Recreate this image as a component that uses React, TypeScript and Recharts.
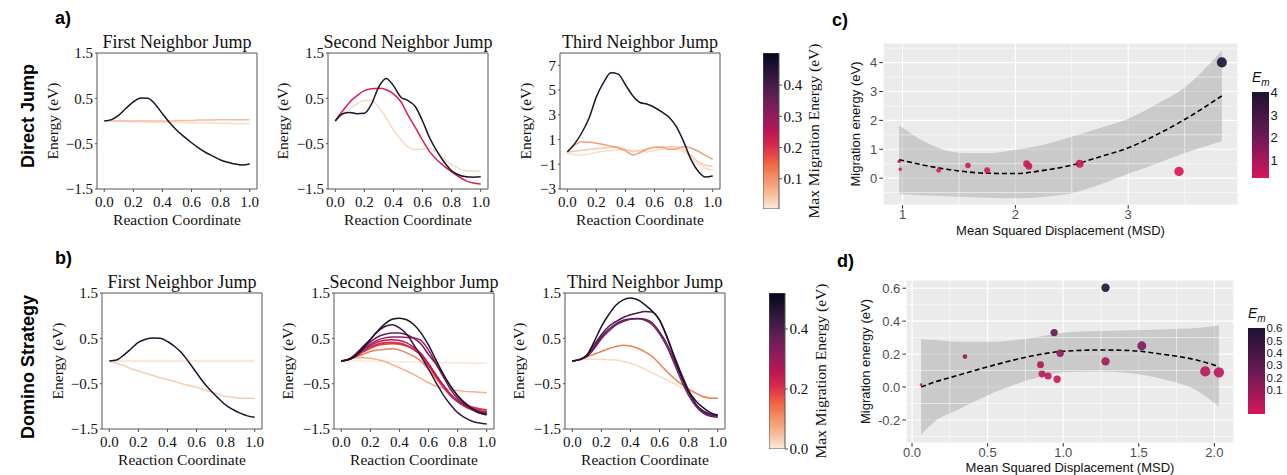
import {
  LineChart, Line, XAxis, YAxis, ReferenceArea, ReferenceLine,
  ComposedChart, Area, Scatter, ZAxis, CartesianGrid, BarChart, Bar, Cell
} from "recharts";

// reaction coordinate grid shared by every NEB curve
const rc = [0, 0.05, 0.1, 0.15, 0.2, 0.25, 0.3, 0.35, 0.4, 0.45, 0.5, 0.55, 0.6, 0.65, 0.7, 0.75, 0.8, 0.85, 0.9, 0.95, 1.0];
const rcTicks = [0, 0.2, 0.4, 0.6, 0.8, 1.0];

// a) direct jump
const a1High = [0, 0.03, 0.13, 0.28, 0.42, 0.51, 0.5, 0.37, 0.16, -0.04, -0.21, -0.35, -0.48, -0.6, -0.7, -0.78, -0.86, -0.91, -0.95, -0.97, -0.95];
const a1Flat = [0, 0, 0, 0, 0, 0, 0, 0, 0, 0, 0.01, 0.01, 0.01, 0.02, 0.02, 0.02, 0.03, 0.03, 0.03, 0.03, 0.03];
const a1Low = [0, 0, 0, -0.01, -0.01, -0.01, -0.02, -0.02, -0.02, -0.03, -0.03, -0.03, -0.04, -0.04, -0.04, -0.05, -0.05, -0.05, -0.06, -0.06, -0.06];

const a2High = [0, 0.16, 0.19, 0.16, 0.17, 0.38, 0.76, 0.94, 0.78, 0.53, 0.45, 0.32, 0.0, -0.38, -0.67, -0.91, -1.1, -1.19, -1.23, -1.24, -1.23];
const a2Mid = [0, 0.22, 0.42, 0.56, 0.67, 0.71, 0.72, 0.69, 0.6, 0.43, 0.13, -0.14, -0.42, -0.68, -0.86, -1.0, -1.12, -1.23, -1.32, -1.37, -1.39];
const a2Low = [0, 0.14, 0.27, 0.38, 0.45, 0.46, 0.3, 0.07, -0.2, -0.4, -0.57, -0.63, -0.62, -0.6, -0.68, -0.84, -0.97, -1.05, -1.1, -1.11, -1.1];

const a3High = [0, 0.65, 1.55, 2.74, 4.45, 5.62, 6.4, 6.29, 5.43, 4.55, 4.0, 3.86, 3.59, 3.23, 2.8, 2.04, 0.83, -0.6, -1.56, -2.03, -1.95];
const a3A = [0, 0.55, 0.82, 0.78, 0.7, 0.6, 0.47, 0.32, 0.08, -0.25, -0.05, 0.22, 0.38, 0.38, 0.2, 0.25, 0.42, 0.32, 0.05, -0.28, -0.6];
const a3B = [0, 0.05, 0.13, 0.2, 0.26, 0.32, 0.38, 0.4, 0.22, 0.02, 0.12, 0.25, 0.35, 0.4, 0.42, 0.42, 0.2, -0.3, -0.8, -1.08, -1.15];
const a3C = [-0.1, -0.2, -0.25, -0.18, -0.05, 0.05, 0.12, 0.15, 0.15, 0.15, 0.08, 0.0, 0.1, 0.22, 0.28, 0.2, 0.0, -0.5, -1.0, -1.3, -1.5];

// b) domino strategy
const b1High = [0, 0.02, 0.13, 0.27, 0.41, 0.48, 0.51, 0.5, 0.43, 0.32, 0.17, -0.04, -0.26, -0.48, -0.66, -0.82, -0.97, -1.07, -1.15, -1.21, -1.24];
const b1Flat = [0, 0, 0, 0, 0, 0, 0, 0, 0, 0, 0, 0, 0, 0, 0, 0, 0, 0, 0, 0, 0];
const b1Slope = [0, -0.05, -0.1, -0.17, -0.22, -0.27, -0.32, -0.37, -0.41, -0.45, -0.5, -0.54, -0.58, -0.63, -0.68, -0.73, -0.78, -0.8, -0.82, -0.82, -0.82];

const b2L1 = [0, 0.03, 0.12, 0.28, 0.47, 0.66, 0.82, 0.92, 0.945, 0.91, 0.8, 0.61, 0.35, 0.03, -0.28, -0.55, -0.76, -0.93, -1.05, -1.14, -1.17];
const b2L2 = [0, 0.04, 0.16, 0.32, 0.48, 0.65, 0.76, 0.8, 0.73, 0.59, 0.35, 0.09, -0.18, -0.47, -0.74, -0.96, -1.14, -1.25, -1.33, -1.37, -1.39];
const b2L3 = [0, 0.03, 0.13, 0.28, 0.42, 0.53, 0.59, 0.62, 0.62, 0.58, 0.5, 0.37, 0.14, -0.06, -0.34, -0.62, -0.83, -0.97, -1.07, -1.15, -1.19];
const b2L4 = [0, 0.03, 0.12, 0.25, 0.37, 0.46, 0.51, 0.53, 0.53, 0.52, 0.51, 0.45, 0.24, -0.04, -0.3, -0.55, -0.77, -0.92, -1.04, -1.11, -1.15];
const b2L5 = [0, 0.03, 0.12, 0.24, 0.34, 0.42, 0.46, 0.47, 0.45, 0.4, 0.3, 0.16, -0.06, -0.3, -0.53, -0.73, -0.88, -0.99, -1.06, -1.1, -1.12];
const b2L6 = [0, 0.03, 0.11, 0.21, 0.3, 0.37, 0.4, 0.41, 0.39, 0.34, 0.25, 0.12, -0.1, -0.33, -0.56, -0.75, -0.89, -0.97, -1.02, -1.06, -1.08];
const b2L7 = [0, 0.03, 0.1, 0.2, 0.28, 0.34, 0.37, 0.38, 0.37, 0.33, 0.26, 0.13, -0.07, -0.3, -0.53, -0.74, -0.9, -1.01, -1.08, -1.13, -1.15];
const b2L8 = [0, 0.03, 0.09, 0.15, 0.21, 0.24, 0.26, 0.27, 0.24, 0.18, 0.1, -0.01, -0.18, -0.38, -0.58, -0.76, -0.9, -0.99, -1.06, -1.1, -1.13];
const b2L9 = [0, 0.04, 0.07, 0.07, 0.06, 0.03, -0.01, -0.08, -0.15, -0.22, -0.3, -0.39, -0.48, -0.55, -0.6, -0.63, -0.65, -0.67, -0.68, -0.69, -0.7];
const b2L10 = [0, 0, 0, 0, 0, -0.01, -0.01, -0.01, -0.02, -0.02, -0.02, -0.03, -0.03, -0.03, -0.04, -0.04, -0.04, -0.04, -0.05, -0.05, -0.05];

const b3L1 = [0, 0.03, 0.13, 0.42, 0.76, 1.02, 1.23, 1.35, 1.39, 1.35, 1.24, 1.1, 0.9, 0.53, 0.09, -0.33, -0.67, -0.88, -1.03, -1.14, -1.19];
const b3L2 = [0, 0.03, 0.13, 0.35, 0.58, 0.76, 0.87, 0.96, 1.02, 1.06, 1.09, 1.08, 0.9, 0.55, 0.12, -0.28, -0.65, -0.95, -1.1, -1.17, -1.2];
const b3L3 = [0, 0.03, 0.1, 0.3, 0.53, 0.7, 0.82, 0.9, 0.93, 0.94, 0.92, 0.84, 0.64, 0.38, 0.02, -0.35, -0.7, -0.96, -1.12, -1.19, -1.22];
const b3L4 = [0, 0.03, 0.1, 0.27, 0.49, 0.66, 0.79, 0.87, 0.92, 0.93, 0.9, 0.8, 0.6, 0.32, -0.05, -0.43, -0.76, -1.0, -1.15, -1.22, -1.24];
const b3L5 = [0, 0.04, 0.09, 0.15, 0.21, 0.27, 0.32, 0.35, 0.33, 0.28, 0.2, 0.1, -0.06, -0.23, -0.38, -0.51, -0.62, -0.71, -0.79, -0.82, -0.82];
const b3L6 = [0, 0.02, 0.04, 0.04, 0.04, 0.03, 0.02, -0.01, -0.05, -0.11, -0.18, -0.26, -0.34, -0.42, -0.5, -0.58, -0.65, -0.72, -0.77, -0.81, -0.83];

// c) direct jump: migration energy vs MSD
const cMsd = [0.97, 0.98, 1.32, 1.58, 1.75, 2.1, 2.12, 2.57, 3.45, 3.83];
const cEm = [0.58, 0.31, 0.27, 0.44, 0.27, 0.5, 0.41, 0.5, 0.23, 4.01];
const cFitMsd = [0.97, 1.2, 1.5, 1.75, 2.0, 2.25, 2.5, 2.75, 3.0, 3.25, 3.5, 3.83];
const cFit = [0.64, 0.44, 0.25, 0.17, 0.16, 0.27, 0.45, 0.74, 1.05, 1.5, 2.03, 2.85];
const cHi = [1.83, 1.25, 0.88, 0.86, 0.98, 1.16, 1.43, 1.74, 2.06, 2.56, 3.14, 4.42];
const cLo = [-0.55, -0.6, -0.64, -0.68, -0.7, -0.65, -0.52, -0.22, 0.15, 0.5, 0.87, 1.28];

// d) domino strategy: migration energy vs MSD
const dMsd = [0.06, 0.35, 0.85, 0.86, 0.9, 0.94, 0.96, 0.98, 1.28, 1.28, 1.52, 1.94, 2.03];
const dEm = [0.014, 0.185, 0.136, 0.079, 0.067, 0.331, 0.047, 0.205, 0.156, 0.603, 0.25, 0.095, 0.089];
const dFitMsd = [0.06, 0.15, 0.3, 0.55, 0.8, 1.0, 1.25, 1.45, 1.65, 1.9, 2.03];
const dFit = [0.0, 0.03, 0.07, 0.135, 0.19, 0.217, 0.225, 0.221, 0.2, 0.16, 0.124];
const dHi = [0.29, 0.285, 0.275, 0.275, 0.3, 0.33, 0.34, 0.345, 0.35, 0.36, 0.375];
const dLo = [-0.29, -0.21, -0.14, -0.03, 0.05, 0.09, 0.095, 0.083, 0.05, -0.03, -0.12];

const serif = '"Liberation Serif", "Times New Roman", serif';
const sans = '"Liberation Sans", Arial, Helvetica, sans-serif';

// rocket_r, bottom to top
const rocket = ["#faebdd", "#f6bc98", "#f58f64", "#f06043", "#da2b4a", "#b91657", "#921c5b", "#691f55", "#451c47", "#221331", "#03051a"];
const emStops = [[214, 22, 92], [104, 26, 84], [28, 18, 50]];

const fmt = (v: number, d: number) => v.toFixed(d).replace("-", "\u2212");

function emColor(v: number, lo: number, hi: number) {
  const t = Math.min(1, Math.max(0, (v - lo) / (hi - lo))) * 2;
  const i = Math.min(1, Math.floor(t));
  const f = t - i;
  const c = emStops[i].map((a, k) => Math.round(a + (emStops[i + 1][k] - a) * f));
  return `rgb(${c[0]},${c[1]},${c[2]})`;
}

type Curve = { e: number[]; color: string; width?: number };

const rows = (e: number[]) => rc.map((x, i) => ({ x, e: e[i] }));

function NebPanel({ left, top, title, yDomain, yTicks, yDigits, curves, labelOffset }: {
  left: number; top: number; title: string; yDomain: [number, number]; yTicks: number[];
  yDigits: number; curves: Curve[]; labelOffset: number;
}) {
  const yw = 56, w = 160, h = 136, mt = 10, mr = 12, xh = 46;
  return (
    <>
      <div style={{
        position: "absolute", left, top: top - 21.5, width: w, display: "flex",
        justifyContent: "center", whiteSpace: "nowrap", fontFamily: serif,
        fontSize: 18, lineHeight: "20px", color: "#111"
      }}>{title}</div>
      <div style={{ position: "absolute", left: left - yw, top: top - mt }}>
        <LineChart width={yw + w + mr} height={mt + h + xh} margin={{ top: mt, right: mr, left: 0, bottom: 0 }}>
          <XAxis
            type="number" dataKey="x" domain={[-0.05, 1.05]} ticks={rcTicks} allowDataOverflow interval={0}
            height={xh} tickSize={3} tickMargin={4} axisLine={false} tickLine={{ stroke: "#555" }}
            tickFormatter={(v: number) => v.toFixed(1)}
            tick={{ fontFamily: serif, fontSize: 15, fill: "#111" }}
            label={{ value: "Reaction Coordinate", position: "insideBottom", offset: 10, style: { fontFamily: serif, fontSize: 15.5, fill: "#111" } }}
          />
          <YAxis
            type="number" domain={yDomain} ticks={yTicks} allowDataOverflow width={yw} interval={0}
            tickSize={2} tickMargin={2} axisLine={false} tickLine={{ stroke: "#555" }}
            tickFormatter={(v: number) => fmt(v, yDigits)}
            tick={{ fontFamily: serif, fontSize: 15, fill: "#111" }}
            label={{ value: "Energy (eV)", angle: -90, position: "insideLeft", offset: labelOffset, style: { textAnchor: "middle", fontFamily: serif, fontSize: 15.5, fill: "#111" } }}
          />
          <ReferenceArea x1={-0.05} x2={1.05} y1={yDomain[0]} y2={yDomain[1]} fill="none" stroke="#555" strokeWidth={1} />
          {curves.map((c, i) => (
            <Line
              key={i} data={rows(c.e)} dataKey="e" type="monotone" stroke={c.color}
              strokeWidth={c.width ?? 1.5} dot={false} isAnimationActive={false}
            />
          ))}
        </LineChart>
      </div>
    </>
  );
}

function RocketBar({ left, top, h, lo, hi, ticks, labelOffset, gid }: {
  left: number; top: number; h: number; lo: number; hi: number; ticks: number[]; labelOffset: number; gid: string;
}) {
  const w = 16, aw = 70, m = 10;
  return (
    <div style={{ position: "absolute", left, top: top - m }}>
      <BarChart width={w + aw} height={h + 2 * m} data={[{ k: "cb", span: [lo, hi] }]} margin={{ top: m, right: 0, bottom: m, left: 0 }} barCategoryGap={0}>
        <defs>
          <linearGradient id={gid} x1="0" y1="1" x2="0" y2="0">
            {rocket.map((c, i) => <stop key={i} offset={i / (rocket.length - 1)} stopColor={c} />)}
          </linearGradient>
        </defs>
        <XAxis dataKey="k" hide />
        <YAxis
          orientation="right" type="number" domain={[lo, hi]} ticks={ticks} allowDataOverflow width={aw} interval={0}
          tickSize={3} tickMargin={1.5} axisLine={false} tickLine={{ stroke: "#555" }}
          tickFormatter={(v: number) => v.toFixed(1)}
          tick={{ fontFamily: serif, fontSize: 15, fill: "#111" }}
          label={{ value: "Max Migration Energy (eV)", angle: -90, position: "insideRight", offset: labelOffset, style: { textAnchor: "middle", fontFamily: serif, fontSize: 15.5, fill: "#111" } }}
        />
        <Bar dataKey="span" fill={`url(#${gid})`} stroke="#555" strokeWidth={1} isAnimationActive={false} />
      </BarChart>
    </div>
  );
}

function EmBar({ left, top, h, lo, hi, ticks, digits, fontSize, gid }: {
  left: number; top: number; h: number; lo: number; hi: number; ticks: number[]; digits: number; fontSize: number; gid: string;
}) {
  const w = 17, aw = 22, m = 10;
  return (
    <>
      <div style={{ position: "absolute", left, top: top - 23, fontFamily: sans, fontSize: 14, fontStyle: "italic", lineHeight: "16px", color: "#111" }}>
        E<sub style={{ fontSize: 10 }}>m</sub>
      </div>
      <div style={{ position: "absolute", left, top: top - m }}>
        <BarChart width={w + aw} height={h + 2 * m} data={[{ k: "cb", span: [lo, hi] }]} margin={{ top: m, right: 0, bottom: m, left: 0 }} barCategoryGap={0}>
          <defs>
            <linearGradient id={gid} x1="0" y1="1" x2="0" y2="0">
              {emStops.map((c, i) => <stop key={i} offset={i / 2} stopColor={`rgb(${c[0]},${c[1]},${c[2]})`} />)}
            </linearGradient>
          </defs>
          <XAxis dataKey="k" hide />
          <YAxis
            yAxisId="lab" orientation="right" type="number" domain={[lo, hi]} ticks={ticks} allowDataOverflow width={aw} interval={0}
            tickLine={false} tickSize={0} axisLine={false} tickMargin={1.5}
            tickFormatter={(v: number) => v.toFixed(digits)}
            tick={{ fontFamily: sans, fontSize, fill: "#1a1a1a" }}
          />
          <YAxis
            yAxisId="inL" orientation="left" mirror type="number" domain={[lo, hi]} ticks={ticks} allowDataOverflow width={0} interval={0}
            tick={false} axisLine={false} tickSize={3} tickLine={{ stroke: "#fff" }}
          />
          <Bar yAxisId="lab" dataKey="span" fill={`url(#${gid})`} isAnimationActive={false} />
        </BarChart>
      </div>
    </>
  );
}

function SmoothPanel({ left, top, w, h, xDomain, yDomain, xTicks, yTicks, xMinor, yMinor, xDigits, yDigits,
  fitMsd, fit, lo, hi, msd, em, emLo, emHi, zDomain, zRange, yw, yLabelOffset, xLabelOffset }: {
  left: number; top: number; w: number; h: number; xDomain: [number, number]; yDomain: [number, number];
  xTicks: number[]; yTicks: number[]; xMinor: number[]; yMinor: number[]; xDigits: number; yDigits: number;
  fitMsd: number[]; fit: number[]; lo: number[]; hi: number[]; msd: number[]; em: number[];
  emLo: number; emHi: number; zDomain: [number, number]; zRange: [number, number];
  yw: number; yLabelOffset: number; xLabelOffset: number;
}) {
  const mt = 10, mr = 12, xh = 40;
  const table = fitMsd.map((m, i) => ({ msd: m, fit: fit[i], band: [lo[i], hi[i]] }));
  const pts = msd.map((m, i) => ({ msd: m, em: em[i] }));
  return (
    <div style={{ position: "absolute", left: left - yw, top: top - mt }}>
      <ComposedChart width={yw + w + mr} height={mt + h + xh} data={table} margin={{ top: mt, right: mr, left: 0, bottom: 0 }}>
        <CartesianGrid fill="#EBEBEB" stroke="#ffffff" strokeWidth={1.1} />
        {xMinor.map((v) => <ReferenceLine key={"x" + v} x={v} stroke="#ffffff" strokeWidth={0.55} />)}
        {yMinor.map((v) => <ReferenceLine key={"y" + v} y={v} stroke="#ffffff" strokeWidth={0.55} />)}
        <XAxis
          type="number" dataKey="msd" domain={xDomain} ticks={xTicks} allowDataOverflow height={xh} interval={0}
          tickSize={3.7} tickMargin={1.5} axisLine={false} tickLine={{ stroke: "#333" }}
          tickFormatter={(v: number) => v.toFixed(xDigits)}
          tick={{ fontFamily: sans, fontSize: 13, fill: "#4d4d4d" }}
          label={{ value: "Mean Squared Displacement (MSD)", position: "insideBottom", offset: xLabelOffset, style: { fontFamily: sans, fontSize: 13, fill: "#111" } }}
        />
        <YAxis
          type="number" domain={yDomain} ticks={yTicks} allowDataOverflow width={yw} interval={0}
          tickSize={3.7} tickMargin={2} axisLine={false} tickLine={{ stroke: "#333" }}
          tickFormatter={(v: number) => v.toFixed(yDigits)}
          tick={{ fontFamily: sans, fontSize: 13, fill: "#4d4d4d" }}
          label={{ value: "Migration energy (eV)", angle: -90, position: "insideLeft", offset: yLabelOffset, style: { textAnchor: "middle", fontFamily: sans, fontSize: 13, fill: "#111" } }}
        />
        <ZAxis type="number" dataKey="msd" domain={zDomain} range={zRange} />
        <Area dataKey="band" type="monotone" fill="#999999" fillOpacity={0.4} stroke="none" isAnimationActive={false} />
        <Line dataKey="fit" type="monotone" stroke="#000" strokeWidth={1.6} strokeDasharray="5 3" dot={false} isAnimationActive={false} />
        <Scatter data={pts} dataKey="em" isAnimationActive={false}>
          {pts.map((p, i) => <Cell key={i} fill={emColor(p.em, emLo, emHi)} fillOpacity={0.9} />)}
        </Scatter>
      </ComposedChart>
    </div>
  );
}

const panelLabel = { position: "absolute" as const, fontFamily: sans, fontWeight: 700, fontSize: 18, lineHeight: "18px", color: "#000" };
const rowLabel = {
  position: "absolute" as const, fontFamily: sans, fontWeight: 700, fontSize: 18, whiteSpace: "nowrap" as const,
  transform: "translate(-50%, -50%) rotate(-90deg)", color: "#000"
};

export default function App() {
  const ink = "#1c1429";
  return (
    <div style={{ position: "absolute", left: 0, top: 0, width: 1287, height: 475, background: "#fff", overflow: "hidden" }}>
      <div style={{ ...panelLabel, left: 55, top: 9 }}>a)</div>
      <div style={{ ...panelLabel, left: 55, top: 249 }}>b)</div>
      <div style={{ ...panelLabel, left: 832, top: 11 }}>c)</div>
      <div style={{ ...panelLabel, left: 837, top: 252 }}>d)</div>
      <div style={{ ...rowLabel, left: 28, top: 116 }}>Direct Jump</div>
      <div style={{ ...rowLabel, left: 28, top: 367 }}>Domino Strategy</div>

      <NebPanel left={97} top={53} title="First Neighbor Jump" yDomain={[-1.5, 1.5]} yTicks={[-1.5, -0.5, 0.5, 1.5]} yDigits={1} labelOffset={11}
        curves={[{ e: a1Low, color: "#fbdcc8" }, { e: a1Flat, color: "#f6bd9e" }, { e: a1High, color: ink }]} />
      <NebPanel left={328} top={53} title="Second Neighbor Jump" yDomain={[-1.5, 1.5]} yTicks={[-1.5, -0.5, 0.5, 1.5]} yDigits={1} labelOffset={10}
        curves={[{ e: a2Low, color: "#fad8c3" }, { e: a2Mid, color: "#dc1d57" }, { e: a2High, color: ink }]} />
      <NebPanel left={560} top={53} title="Third Neighbor Jump" yDomain={[-3, 8]} yTicks={[-3, -1, 1, 3, 5, 7]} yDigits={0} labelOffset={21}
        curves={[{ e: a3C, color: "#fbdcc8" }, { e: a3B, color: "#f8c7aa" }, { e: a3A, color: "#f3a17b" }, { e: a3High, color: ink }]} />
      <RocketBar left={763} top={53} h={156} lo={0.003} hi={0.503} ticks={[0.1, 0.2, 0.3, 0.4]} labelOffset={36} gid="rocketA" />

      <NebPanel left={102} top={293} title="First Neighbor Jump" yDomain={[-1.5, 1.5]} yTicks={[-1.5, -0.5, 0.5, 1.5]} yDigits={1} labelOffset={11}
        curves={[{ e: b1Flat, color: "#fbe0cf" }, { e: b1Slope, color: "#f8cdb2" }, { e: b1High, color: ink }]} />
      <NebPanel left={334} top={293} title="Second Neighbor Jump" yDomain={[-1.5, 1.5]} yTicks={[-1.5, -0.5, 0.5, 1.5]} yDigits={1} labelOffset={9}
        curves={[
          { e: b2L10, color: "#fce6d8" }, { e: b2L9, color: "#f6b08a" }, { e: b2L8, color: "#f27b50" },
          { e: b2L7, color: "#e6483d" }, { e: b2L6, color: "#d8304a", width: 2 }, { e: b2L5, color: "#b81a5a" },
          { e: b2L4, color: "#952064" }, { e: b2L3, color: "#6f1f5e" }, { e: b2L2, color: "#3a1546" }, { e: b2L1, color: ink }
        ]} />
      <NebPanel left={565} top={293} title="Third Neighbor Jump" yDomain={[-1.5, 1.5]} yTicks={[-1.5, -0.5, 0.5, 1.5]} yDigits={1} labelOffset={9}
        curves={[
          { e: b3L6, color: "#fad9c5" }, { e: b3L5, color: "#f2804f" }, { e: b3L4, color: "#7a2064" },
          { e: b3L3, color: "#65205f" }, { e: b3L2, color: "#4a1850" }, { e: b3L1, color: ink }
        ]} />
      <RocketBar left={769} top={293} h={156} lo={0} hi={0.52} ticks={[0, 0.2, 0.4]} labelOffset={35} gid="rocketB" />

      <SmoothPanel left={883} top={43} w={355} h={162} xDomain={[0.827, 3.973]} yDomain={[-0.93, 4.68]}
        xTicks={[1, 2, 3]} yTicks={[0, 1, 2, 3, 4]} xMinor={[1.5, 2.5, 3.5]} yMinor={[-0.5, 0.5, 1.5, 2.5, 3.5, 4.5]}
        xDigits={0} yDigits={0} fitMsd={cFitMsd} fit={cFit} lo={cLo} hi={cHi} msd={cMsd} em={cEm}
        emLo={0.23} emHi={4.01} zDomain={[0.97, 3.83]} zRange={[9, 80]} yw={44} yLabelOffset={16} xLabelOffset={10} />
      <EmBar left={1252} top={92} h={86} lo={0.23} hi={4.01} ticks={[1, 2, 3, 4]} digits={0} fontSize={13} gid="emC" />

      <SmoothPanel left={906} top={280} w={328} h={163} xDomain={[-0.04, 2.13]} yDomain={[-0.34, 0.65]}
        xTicks={[0, 0.5, 1, 1.5, 2]} yTicks={[-0.2, 0, 0.2, 0.4, 0.6]} xMinor={[0.25, 0.75, 1.25, 1.75]} yMinor={[-0.3, -0.1, 0.1, 0.3, 0.5]}
        xDigits={1} yDigits={1} fitMsd={dFitMsd} fit={dFit} lo={dLo} hi={dHi} msd={dMsd} em={dEm}
        emLo={0.014} emHi={0.603} zDomain={[0.06, 2.03]} zRange={[6, 85]} yw={54} yLabelOffset={13} xLabelOffset={11} />
      <EmBar left={1248} top={328} h={86} lo={-0.09} hi={0.6} ticks={[0.1, 0.2, 0.3, 0.4, 0.5, 0.6]} digits={1} fontSize={11.5} gid="emD" />
    </div>
  );
}
